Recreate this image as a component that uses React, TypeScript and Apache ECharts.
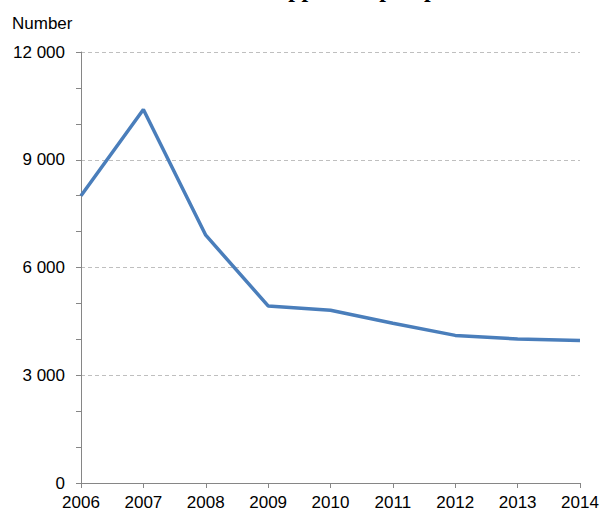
import React, { useEffect, useRef } from "react";
import * as echarts from "echarts";

const years = ["2006", "2007", "2008", "2009", "2010", "2011", "2012", "2013", "2014"];
const approved = [8000, 10400, 6900, 4930, 4810, 4450, 4110, 4010, 3970];
const yTicks = [0, 3000, 6000, 9000, 12000];
const titleText = "Chart 1: Total number of approved prospectus";
const yAxisName = "Number";

function fmt(v: number) {
  return String(v).replace(/\B(?=(\d{3})+(?!\d))/g, " ");
}

export default function App() {
  const ref = useRef<HTMLDivElement>(null);
  useEffect(() => {
    if (!ref.current) return;
    const chart = echarts.init(ref.current, null, { renderer: "svg" });
    chart.setOption({
      animation: false,
      backgroundColor: "#ffffff",
      textStyle: { fontFamily: "Liberation Sans, Arial, sans-serif" },
      graphic: [
        {
          type: "text",
          x: 12,
          y: 1,
          style: {
            text: titleText,
            font: "bold 24px 'Liberation Serif', 'Times New Roman', serif",
            fill: "#000",
            verticalAlign: "bottom",
          },
        },
        {
          type: "text",
          left: 12,
          top: 15,
          style: {
            text: yAxisName,
            font: "17px 'Liberation Sans', Arial, sans-serif",
            fill: "#000",
          },
        },
      ],
      grid: { left: 81, right: 22, top: 52, bottom: 30, containLabel: false },
      xAxis: {
        type: "category",
        data: years,
        boundaryGap: false,
        axisLine: { lineStyle: { color: "#868686", width: 1 } },
        axisTick: { show: true, length: 5, lineStyle: { color: "#868686" } },
        axisLabel: { color: "#000", fontSize: 17, margin: 11, fontFamily: "Liberation Sans, Arial, sans-serif" },
        splitLine: { show: false },
      },
      yAxis: {
        type: "value",
        min: yTicks[0],
        max: yTicks[yTicks.length - 1],
        interval: 3000,
        axisLine: { show: true, lineStyle: { color: "#868686", width: 1 } },
        axisTick: { show: true, length: 5, lineStyle: { color: "#868686" } },
        minorTick: { show: true, splitNumber: 3, length: 5, lineStyle: { color: "#868686" } },
        axisLabel: {
          color: "#000",
          fontSize: 17,
          margin: 16,
          fontFamily: "Liberation Sans, Arial, sans-serif",
          formatter: (v: number) => fmt(v),
        },
        splitLine: { show: true, lineStyle: { color: "#bfbfbf", type: [4, 3], width: 1 } },
      },
      series: [
        {
          type: "line",
          data: approved,
          symbol: "none",
          lineStyle: { color: "#4a7ebb", width: 3.5 },
          itemStyle: { color: "#4a7ebb" },
          z: 3,
        },
      ],
    });
    return () => chart.dispose();
  }, []);
  return (
    <div
      ref={ref}
      style={{ position: "fixed", left: 0, top: 0, width: 602, height: 513, background: "#fff" }}
    />
  );
}
